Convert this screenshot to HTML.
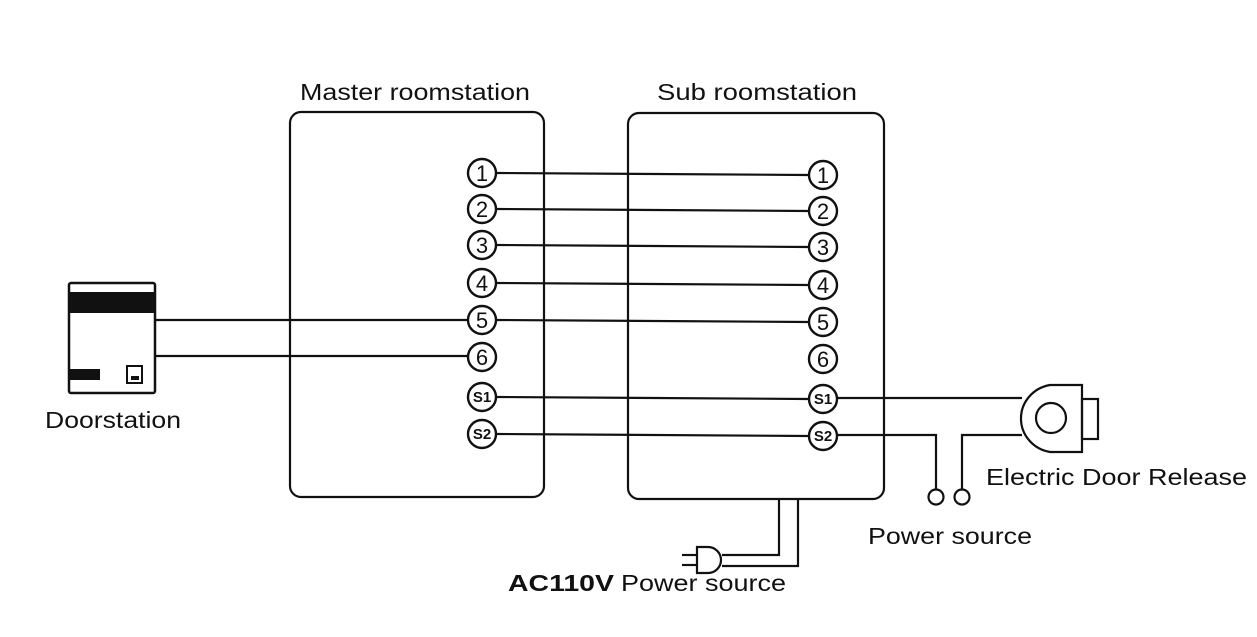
<!DOCTYPE html>
<html><head><meta charset="utf-8"><style>
html,body{margin:0;padding:0;background:#fff;}
svg{display:block;}
text{font-family:"Liberation Sans",Arial,sans-serif;fill:#111;}
.t{font-size:22px;text-anchor:middle;}
.s{font-size:15px;text-anchor:middle;font-weight:bold;}
</style></head><body>
<svg width="1257" height="637" viewBox="0 0 1257 637" xmlns="http://www.w3.org/2000/svg">
<g fill="none" stroke="#111" stroke-width="2.2">
<rect x="290" y="112" width="254" height="385" rx="11"/>
<rect x="628" y="113" width="256" height="386" rx="11"/>
<line x1="497" y1="173" x2="808" y2="175"/>
<line x1="497" y1="209" x2="808" y2="211"/>
<line x1="497" y1="245" x2="808" y2="247"/>
<line x1="497" y1="283" x2="808" y2="285"/>
<line x1="497" y1="320" x2="808" y2="322"/>
<line x1="497" y1="397" x2="808" y2="399"/>
<line x1="497" y1="434" x2="808" y2="436"/>
<line x1="156" y1="320" x2="467" y2="320"/>
<line x1="156" y1="356" x2="467" y2="356"/>
<line x1="838" y1="398" x2="1022" y2="398"/>
<polyline points="838,435 936,435 936,490"/>
<polyline points="962,490 962,435 1022,435"/>
<circle cx="936" cy="497" r="7.5"/>
<circle cx="962" cy="497" r="7.5"/>
<path d="M1082,385 L1050,385 A35,34 0 0 0 1050,452 L1082,452 Z"/>
<circle cx="1051" cy="418" r="15"/>
<rect x="1082" y="399" width="16" height="40"/>
<polyline points="779,499 779,555 722,555"/>
<polyline points="798,499 798,566 722,566"/>
<path d="M697,547 L708,547 A13,13 0 0 1 708,573 L697,573 Z"/>
<line x1="682" y1="555" x2="697" y2="555"/>
<line x1="682" y1="565" x2="697" y2="565"/>
<rect x="69" y="283" width="86" height="110" rx="2" stroke-width="2.5"/>
<rect x="127" y="366" width="15" height="17" stroke-width="2"/>
</g>
<rect x="69" y="292" width="86" height="21" fill="#111"/>
<rect x="69" y="369" width="31" height="11" fill="#111"/>
<path d="M131,376 h8 v4 h-8z" fill="#111"/>
<g fill="#fff" stroke="#111" stroke-width="2.4">
<circle cx="482" cy="173" r="14"/><circle cx="482" cy="209" r="14"/><circle cx="482" cy="245" r="14"/><circle cx="482" cy="283" r="14"/><circle cx="482" cy="320" r="14"/><circle cx="482" cy="357" r="14"/><circle cx="482" cy="397" r="14"/><circle cx="482" cy="434" r="14"/>
<circle cx="823" cy="175" r="14"/><circle cx="823" cy="211" r="14"/><circle cx="823" cy="247" r="14"/><circle cx="823" cy="285" r="14"/><circle cx="823" cy="322" r="14"/><circle cx="823" cy="359" r="14"/><circle cx="823" cy="399" r="14"/><circle cx="823" cy="436" r="14"/>
</g>
<text class="t" x="482" y="181">1</text><text class="t" x="482" y="217">2</text><text class="t" x="482" y="253">3</text><text class="t" x="482" y="291">4</text><text class="t" x="482" y="328">5</text><text class="t" x="482" y="365">6</text><text class="s" x="482" y="402">S1</text><text class="s" x="482" y="439">S2</text>
<text class="t" x="823" y="183">1</text><text class="t" x="823" y="219">2</text><text class="t" x="823" y="255">3</text><text class="t" x="823" y="293">4</text><text class="t" x="823" y="330">5</text><text class="t" x="823" y="367">6</text><text class="s" x="823" y="404">S1</text><text class="s" x="823" y="441">S2</text>
<text x="300" y="100" font-size="23" textLength="230" lengthAdjust="spacingAndGlyphs">Master roomstation</text>
<text x="657" y="100" font-size="23" textLength="200" lengthAdjust="spacingAndGlyphs">Sub roomstation</text>
<text x="45" y="428" font-size="23" textLength="136" lengthAdjust="spacingAndGlyphs">Doorstation</text>
<text x="986" y="485" font-size="23" textLength="261" lengthAdjust="spacingAndGlyphs">Electric Door Release</text>
<text x="868" y="544" font-size="23" textLength="164" lengthAdjust="spacingAndGlyphs">Power source</text>
<text x="508" y="591" font-size="23" font-weight="bold" textLength="106" lengthAdjust="spacingAndGlyphs">AC110V</text>
<text x="621" y="591" font-size="23" textLength="165" lengthAdjust="spacingAndGlyphs">Power source</text>
</svg>
</body></html>
